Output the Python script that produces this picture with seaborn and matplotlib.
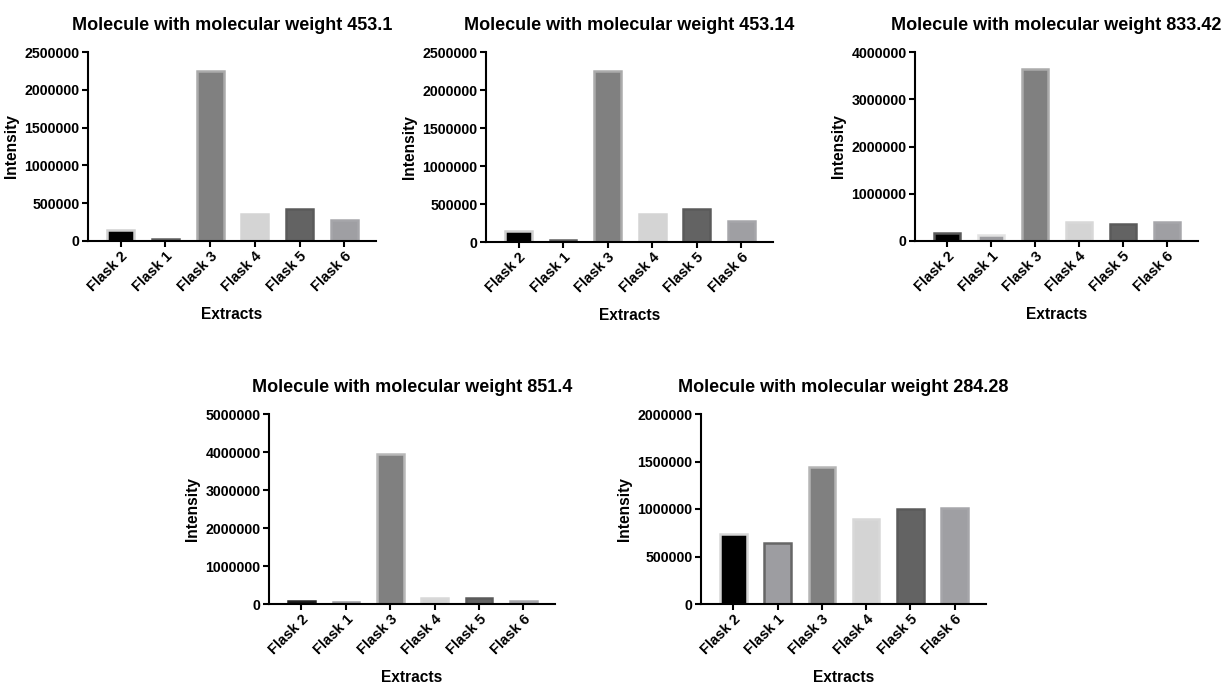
import matplotlib
matplotlib.use("Agg")
import matplotlib.pyplot as plt
import seaborn as sns
import pandas as pd
from matplotlib.ticker import MultipleLocator, FuncFormatter

sns.set_theme(style="ticks")
plt.rcParams["font.family"] = ["Liberation Sans", "DejaVu Sans"]
plt.rcParams["font.weight"] = "bold"
plt.rcParams["text.color"] = "black"
plt.rcParams["axes.labelcolor"] = "black"
plt.rcParams["xtick.color"] = "black"
plt.rcParams["ytick.color"] = "black"

# ---- data -------------------------------------------------------------
flasks = ["Flask 2", "Flask 1", "Flask 3", "Flask 4", "Flask 5", "Flask 6"]

titles = [
    "Molecule with molecular weight 453.1",
    "Molecule with molecular weight 453.14",
    "Molecule with molecular weight 833.42",
    "Molecule with molecular weight 851.4",
    "Molecule with molecular weight 284.28",
]

mw_453_1 = [143000, 25000, 2245000, 362000, 428000, 277000]
mw_453_14 = [143000, 25000, 2245000, 362000, 428000, 277000]
mw_833_42 = [160000, 130000, 3630000, 408000, 352000, 400000]
mw_851_4 = [70000, 50000, 3950000, 150000, 150000, 80000]
mw_284_28 = [734000, 638000, 1440000, 900000, 998000, 1015000]

series = [mw_453_1, mw_453_14, mw_833_42, mw_851_4, mw_284_28]
y_max = [2500000, 2500000, 4000000, 5000000, 2000000]
y_step = [500000, 500000, 1000000, 1000000, 500000]

# ---- styling ----------------------------------------------------------
face_colors = ["#000000", "#9d9da1", "#808080", "#d4d4d4", "#636363", "#9f9fa3"]
edge_sets = [
    ["#d0d0d0", "#5e5e5e", "#ababab", "#d4d4d4", "#5a5a5a", "#a6a6aa"],
    ["#d0d0d0", "#5e5e5e", "#ababab", "#d4d4d4", "#5a5a5a", "#a6a6aa"],
    ["#5a5a5a", "#e2e2e2", "#ababab", "#d8d8d8", "#5a5a5a", "#a6a6aa"],
    ["#202020", "#9d9da1", "#b8b8b8", "#d8d8d8", "#5a5a5a", "#a6a6aa"],
    ["#d6d6d6", "#666666", "#b5b5b5", "#d8d8d8", "#5a5a5a", "#a6a6aa"],
]

W, H = 1228, 686
# axes boxes in pixels: left, right, top, bottom
boxes = [
    (88, 376, 52, 241),
    (486, 773, 52, 242),
    (915, 1198, 52, 241),
    (269, 555, 414, 604),
    (701, 986, 414, 604),
]

fig = plt.figure(figsize=(W / 100, H / 100), dpi=100)
fig.patch.set_facecolor("white")

for i, (vals, title) in enumerate(zip(series, titles)):
    l, r, t, b = boxes[i]
    ax = fig.add_axes([l / W, 1 - b / H, (r - l) / W, (b - t) / H])
    df = pd.DataFrame({"Extracts": flasks, "Intensity": vals})
    sns.barplot(
        data=df, x="Extracts", y="Intensity", hue="Extracts",
        palette=dict(zip(flasks, face_colors)), order=flasks,
        hue_order=flasks, legend=False, saturation=1, width=0.6, ax=ax,
    )
    for patch, ec in zip(ax.patches, edge_sets[i]):
        patch.set_edgecolor(ec)
        patch.set_linewidth(1.8)

    ax.set_xlim(-0.73, 5.71)
    ax.set_ylim(0, y_max[i])
    ax.yaxis.set_major_locator(MultipleLocator(y_step[i]))
    ax.yaxis.set_major_formatter(FuncFormatter(lambda v, p: f"{int(round(v))}"))

    sns.despine(ax=ax)
    for side in ("left", "bottom"):
        ax.spines[side].set_linewidth(1.5)
        ax.spines[side].set_color("black")
    ax.tick_params(axis="both", direction="out", length=4, width=1.5,
                   color="black", labelcolor="black")
    ax.tick_params(axis="y", labelsize=10.2, pad=2)
    ax.tick_params(axis="x", labelsize=10.5, pad=2)
    ax.set_xticks(range(len(flasks)))
    ax.set_xticklabels(flasks, rotation=45, ha="right", rotation_mode="anchor",
                       fontweight="bold")
    for lab in ax.get_yticklabels():
        lab.set_fontweight("bold")

    ax.set_xlabel("Extracts", fontsize=11.2, fontweight="bold", labelpad=9,
                  color="black")
    ax.set_ylabel("Intensity", fontsize=11.2, fontweight="bold", labelpad=4,
                  color="black")
    ax.set_title(title, fontsize=13, fontweight="bold", pad=16, color="black")

fig.savefig("out.png", dpi=100, facecolor="white")
